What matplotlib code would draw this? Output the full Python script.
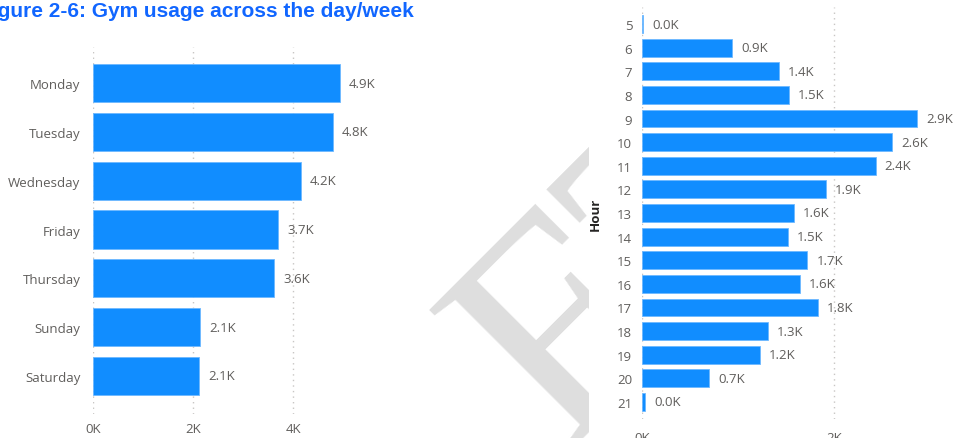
import numpy as np
import matplotlib.pyplot as plt
from matplotlib.patches import Rectangle

# data (values in thousands)
days = ["Monday", "Tuesday", "Wednesday", "Friday", "Thursday", "Sunday", "Saturday"]
day_counts = [4.94, 4.80, 4.16, 3.70, 3.62, 2.14, 2.12]

hours = [5, 6, 7, 8, 9, 10, 11, 12, 13, 14, 15, 16, 17, 18, 19, 20, 21]
hour_counts = [0.01, 0.94, 1.42, 1.53, 2.86, 2.60, 2.43, 1.91, 1.58, 1.52,
               1.72, 1.64, 1.83, 1.31, 1.23, 0.70, 0.03]

day_ticks = [0, 2, 4]
hour_ticks = [0, 2]

BAR = "#118DFF"
GREY = "#605E5C"
FONT = "Open Sans"

W, H = 955, 439
fig = plt.figure(figsize=(W / 100, H / 100), dpi=100)


def px_axes(x0, y0, x1, y1):
    # pixel box (top-left origin) -> axes
    return fig.add_axes([x0 / W, 1 - y1 / H, (x1 - x0) / W, (y1 - y0) / H])


def px(x, y):
    return x / W, 1 - y / H


# "DRAFT" watermark, only the F and the start of the T show,
# the rest sits behind the right visual
for letter, (lx, ly) in [("F", (562, 451)), ("T", (682, 331))]:
    fig.text(*px(lx, ly), letter, rotation=45, rotation_mode="anchor",
             ha="left", va="baseline", fontsize=220, family="Liberation Serif",
             color="#DEDEDE", zorder=-3)
fig.patches.append(Rectangle((589 / W, 0), 1, 1, transform=fig.transFigure,
                             facecolor="white", edgecolor="none", zorder=-2))

# title, cut at the left edge
fig.text(*px(414, 17), "Figure 2-6: Gym usage across the day/week",
         ha="right", va="baseline", fontsize=15, fontweight="bold",
         family="Liberation Sans", color="#1166FF")


def style(ax, ticks, pad):
    for s in ax.spines.values():
        s.set_visible(False)
    ax.set_facecolor("none")
    ax.set_xticks(ticks)
    ax.set_xticklabels([f"{t}K" for t in ticks])
    ax.tick_params(axis="both", length=0, colors=GREY, labelsize=9.5)
    ax.tick_params(axis="x", pad=pad)
    for lab in ax.get_xticklabels() + ax.get_yticklabels():
        lab.set_family(FONT)
    ax.grid(axis="x", color="#C8C6C4", linestyle=(0, (1, 3)), linewidth=1)
    ax.set_axisbelow(True)


# left: by weekday
ax1 = px_axes(93, 48, 390, 415)
y1 = np.arange(len(days))
ax1.barh(y1, day_counts, height=0.78, color=BAR, edgecolor="#6DB8FF", linewidth=0.6)
ax1.set_yticks(y1)
ax1.set_yticklabels(days)
ax1.set_ylim(len(days) - 1 + 0.78, -0.74)
ax1.set_xlim(0, 5.94)
style(ax1, day_ticks, 6)
ax1.tick_params(axis="y", pad=9)
for yy, v in zip(y1, day_counts):
    ax1.annotate(f"{v:.1f}K", (v, yy), xytext=(9, 0), textcoords="offset pixels",
                 va="center", ha="left", fontsize=9.5, color=GREY, family=FONT)

# right: by hour
ax2 = px_axes(642, 8, 940, 420)
y2 = np.arange(len(hours))
ax2.barh(y2, hour_counts, height=0.76, color=BAR, edgecolor="#6DB8FF", linewidth=0.6)
ax2.set_yticks(y2)
ax2.set_yticklabels([str(h) for h in hours])
ax2.set_ylim(len(hours) - 1 + 0.72, -0.72)
ax2.set_xlim(0, 3.1)
style(ax2, hour_ticks, 9)
ax2.tick_params(axis="y", pad=7)
ax2.set_ylabel("Hour", fontsize=9.5, fontweight="bold", color="#252423", family=FONT)
ax2.yaxis.set_label_coords(-0.135, 0.5)
for yy, v in zip(y2, hour_counts):
    ax2.annotate(f"{v:.1f}K", (v, yy), xytext=(9, 0), textcoords="offset pixels",
                 va="center", ha="left", fontsize=9.5, color=GREY, family=FONT)

fig.savefig("out.png", dpi=100)
